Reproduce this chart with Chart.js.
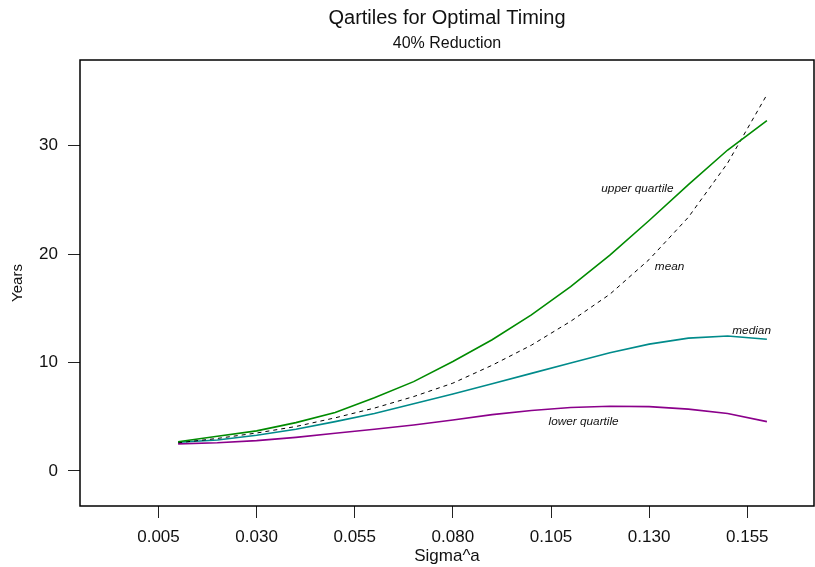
<!DOCTYPE html>
<html><head><meta charset="utf-8">
<script src="https://cdn.jsdelivr.net/npm/chart.js@4/dist/chart.umd.min.js"></script>
<style>html,body{margin:0;padding:0;background:#fff;} canvas{display:block;}</style>
</head><body>
<canvas id="c" width="815" height="567"></canvas>
<script>
// ---- data ----
const sigma = [0.01,0.02,0.03,0.04,0.05,0.06,0.07,0.08,0.09,0.10,0.11,0.12,0.13,0.14,0.15,0.16];
const upperQuartile = [2.7,3.2,3.7,4.46,5.4,6.76,8.24,10.1,12.1,14.4,17.0,19.9,23.1,26.4,29.6,32.3];
const meanYears     = [2.6,3.0,3.5,4.1,4.9,5.8,6.86,8.1,9.75,11.6,13.8,16.3,19.5,23.4,28.4,34.7];
const medianYears   = [2.65,2.86,3.3,3.85,4.55,5.3,6.2,7.1,8.05,9.0,9.95,10.9,11.7,12.25,12.45,12.15];
const lowerQuartile = [2.5,2.6,2.8,3.1,3.48,3.85,4.24,4.7,5.2,5.57,5.85,5.97,5.93,5.7,5.3,4.55];
const xTicks = [0.005,0.030,0.055,0.080,0.105,0.130,0.155];
const yTicks = [0,10,20,30];
const seriesNames = ['upper quartile','mean','median','lower quartile'];
// curve label anchors (data coordinates)
const labelAnchors = [
  {text:'upper quartile', x:0.127, y:26.0},
  {text:'mean', x:0.1352, y:18.85},
  {text:'median', x:0.1561, y:12.98},
  {text:'lower quartile', x:0.1133, y:4.55}
];

const FONT = "'Liberation Sans', Arial, Helvetica, sans-serif";
const toPts = (ys) => sigma.map((x,i)=>({x:x, y:ys[i]}));

const boxAndLabels = {
  id:'boxAndLabels',
  afterDatasetsDraw(chart){
    const {ctx, chartArea:a, scales} = chart;
    ctx.save();
    ctx.strokeStyle = '#000';
    ctx.lineWidth = 1.5;
    ctx.strokeRect(a.left, a.top, a.right - a.left, a.bottom - a.top);
    ctx.fillStyle = '#111';
    ctx.font = 'italic 11.8px ' + FONT;
    ctx.textAlign = 'center';
    ctx.textBaseline = 'middle';
    labelAnchors.forEach(l=>{
      ctx.fillText(l.text, scales.x.getPixelForValue(l.x), scales.y.getPixelForValue(l.y));
    });
    ctx.restore();
  }
};

new Chart(document.getElementById('c'), {
  type:'line',
  data:{
    datasets:[
      {label:seriesNames[0], data:toPts(upperQuartile), borderColor:'#008B00', borderWidth:1.6},
      {label:seriesNames[1], data:toPts(meanYears), borderColor:'#000', borderWidth:1, borderDash:[4,4]},
      {label:seriesNames[2], data:toPts(medianYears), borderColor:'#008B8B', borderWidth:1.6},
      {label:seriesNames[3], data:toPts(lowerQuartile), borderColor:'#8B008B', borderWidth:1.6}
    ]
  },
  options:{
    responsive:false,
    animation:false,
    devicePixelRatio:1,
    elements:{point:{radius:0}, line:{tension:0, fill:false}},
    layout:{padding:{right:1, left:0, top:0, bottom:0}},
    plugins:{
      legend:{display:false},
      tooltip:{enabled:false},
      title:{display:true, text:'Qartiles for Optimal Timing', fullSize:false, color:'#111',
        font:{family:FONT, size:20, weight:'normal', lineHeight:1.2}, padding:{top:6,bottom:3}},
      subtitle:{display:true, text:'40% Reduction', fullSize:false, color:'#111',
        font:{family:FONT, size:16, weight:'normal', lineHeight:1.2}, padding:{top:1,bottom:6.8}}
    },
    scales:{
      x:{
        type:'linear', min:-0.015, max:0.172,
        afterBuildTicks:(s)=>{ s.ticks = xTicks.map(v=>({value:v})); },
        afterFit:(s)=>{ s.height = 61; },
        grid:{drawOnChartArea:false, drawTicks:true, tickLength:12, color:'#222', lineWidth:1},
        border:{display:false},
        ticks:{color:'#111', font:{family:FONT, size:17}, padding:9, maxRotation:0, autoSkip:false,
          callback:(v)=>Number(v).toFixed(3)},
        title:{display:true, text:'Sigma^a', color:'#111', font:{family:FONT, size:17}, padding:{top:0.8,bottom:0}}
      },
      y:{
        type:'linear', min:-3.23, max:37.9,
        afterBuildTicks:(s)=>{ s.ticks = yTicks.map(v=>({value:v})); },
        afterFit:(s)=>{ s.width = 80; },
        grid:{drawOnChartArea:false, drawTicks:true, tickLength:12, color:'#222', lineWidth:1},
        border:{display:false},
        ticks:{color:'#111', font:{family:FONT, size:17}, padding:10, autoSkip:false,
          callback:(v)=>String(v)},
        title:{display:true, text:'Years', color:'#111', font:{family:FONT, size:15}, padding:{top:9,bottom:0}}
      }
    }
  },
  plugins:[boxAndLabels]
});
</script>
</body></html>
